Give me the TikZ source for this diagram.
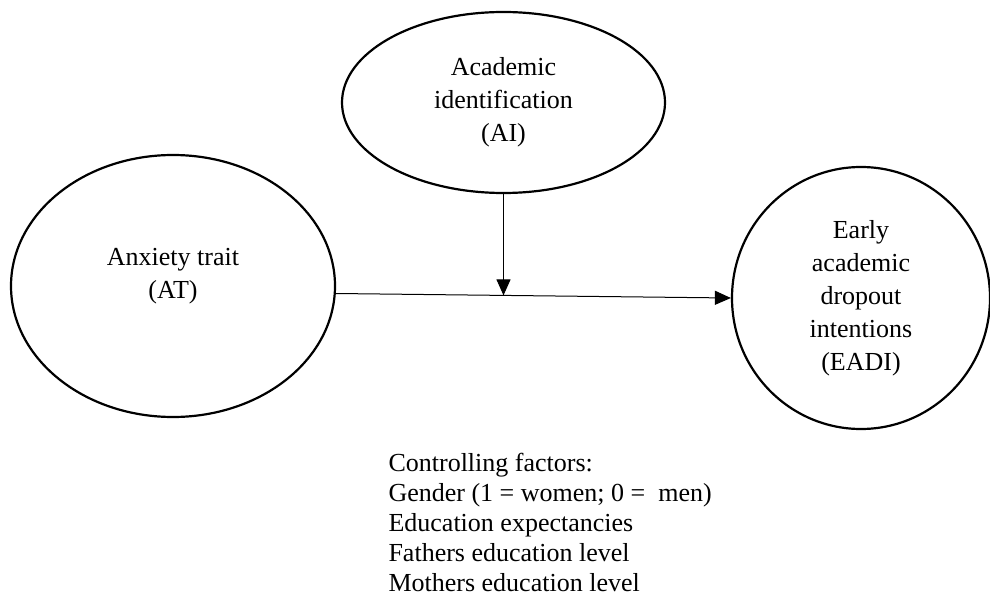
\documentclass[tikz,border=0pt]{standalone}
\usepackage{fontspec}
\setmainfont{Liberation Serif}
\usetikzlibrary{shapes.geometric,arrows.meta,calc}
\tikzset{
    construct/.style={draw, ellipse, line width=2.2pt, inner sep=0pt, align=center,
        font=\fontsize{26}{33}\selectfont},
    effect/.style={-{Triangle[length=16pt,width=14pt]}, line width=1pt},
}

\begin{document}
\begin{tikzpicture}[x=1pt,y=-1pt]
    \useasboundingbox (0,0) rectangle (990,596);
    \node[construct, minimum width=323pt, minimum height=181pt] (AI) at (503.5,102.5) {Academic\\identification\\(AI)};
    \node[construct, minimum width=324pt, minimum height=262pt, text depth=26pt] (AT) at (173,286) {Anxiety trait\\(AT)};
    \node[construct, minimum width=258pt, minimum height=262pt] (EADI) at (861,298) {Early\\academic\\dropout\\intentions\\(EADI)};
    % controlling factors, last baseline placed
    \node[anchor=base west, align=left, font=\fontsize{26}{30}\selectfont] (ctrl) at (385,591.7) {Controlling factors:\\Gender (1 = women; 0 =~ men)\\Education expectancies\\Fathers education level\\Mothers education level};
    \draw[effect] ([yshift=-7.5pt]AT.east) -- (EADI.west) coordinate[pos=0.425] (mod);
    \draw[effect] (AI.south) -- (AI.south |- mod);
\end{tikzpicture}
\end{document}
